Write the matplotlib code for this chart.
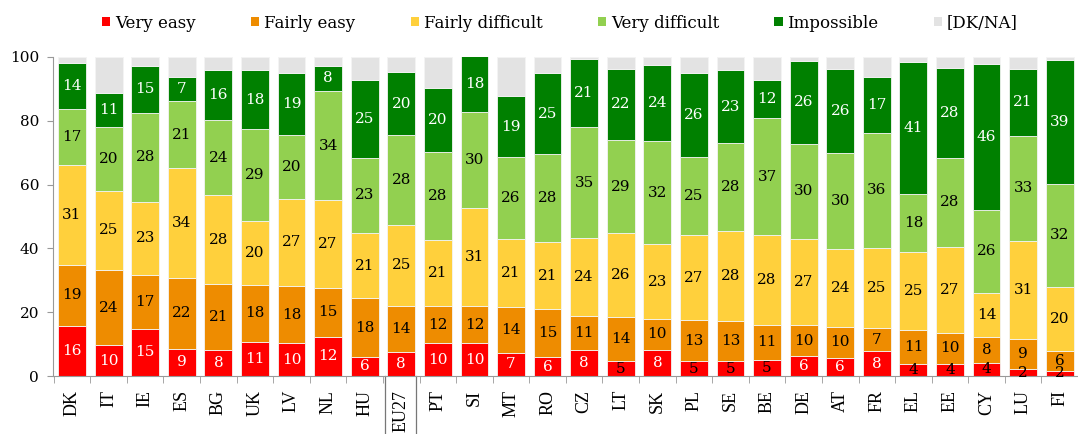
import matplotlib.pyplot as plt
from matplotlib.patches import Patch
import numpy as np

countries = ["DK", "IT", "IE", "ES", "BG", "UK", "LV", "NL", "HU", "EU27",
             "PT", "SI", "MT", "RO", "CZ", "LT", "SK", "PL", "SE", "BE",
             "DE", "AT", "FR", "EL", "EE", "CY", "LU", "FI"]

# percentages (labels show the rounded values)
very_easy = [15.7, 9.6, 14.8, 8.6, 8.2, 10.8, 10.2, 12.3, 6.1, 7.6,
             10.2, 10.2, 7.3, 5.8, 8.3, 4.6, 8.3, 4.6, 4.6, 5.1,
             6.2, 5.6, 7.7, 3.7, 3.9, 4.2, 2.1, 1.6]
fairly_easy = [19.2, 23.6, 16.9, 22.2, 20.6, 17.6, 18.0, 15.4, 18.2, 14.4,
               11.7, 11.6, 14.4, 15.1, 10.6, 14.0, 9.6, 12.8, 12.6, 10.9,
               9.8, 9.9, 7.4, 10.6, 9.7, 8.1, 9.4, 6.2]
fairly_difficult = [31.3, 24.9, 22.9, 34.3, 27.8, 20.2, 27.4, 27.4, 20.6, 25.4,
                    20.6, 30.8, 21.3, 21.0, 24.4, 26.1, 23.4, 26.7, 28.1, 28.1,
                    27.1, 24.4, 25.0, 24.6, 26.9, 13.8, 30.9, 20.1]
very_difficult = [17.4, 20.0, 28.0, 21.1, 23.7, 28.8, 20.1, 34.3, 23.4, 28.2,
                  27.6, 30.1, 25.7, 27.7, 34.7, 29.4, 32.3, 24.7, 27.6, 36.7,
                  29.7, 30.0, 36.2, 18.1, 27.8, 26.0, 32.9, 32.4]
impossible = [14.4, 10.6, 14.6, 7.4, 15.6, 18.4, 19.2, 7.8, 24.6, 19.6,
              20.1, 17.6, 19.0, 25.3, 21.4, 22.2, 24.0, 26.1, 23.0, 12.1,
              25.9, 26.2, 17.3, 41.4, 28.2, 45.7, 20.9, 38.8]

series_names = ["Very easy", "Fairly easy", "Fairly difficult",
                "Very difficult", "Impossible", "[DK/NA]"]
colors = ["#ff0000", "#ee8c00", "#ffd03c", "#92d050", "#008000", "#e3e3e3"]

series = [very_easy, fairly_easy, fairly_difficult, very_difficult, impossible]
dk_na = [max(0, 100 - sum(v)) for v in zip(*series)]

x = np.arange(len(countries))

fig = plt.figure(figsize=(10.78, 4.34), dpi=100)
ax = fig.add_axes([53 / 1078, 58 / 434, 1025 / 1078, 319 / 434])

num_font = "DejaVu Serif"
bottom = np.zeros(len(countries))
for i, vals in enumerate(series + [dk_na]):
    vals = np.array(vals, dtype=float)
    ax.bar(x, vals, width=0.76, bottom=bottom, color=colors[i],
           edgecolor="#f4f4f4", linewidth=0.6, zorder=2)
    if i < 5:
        for xi, b, v in zip(x, bottom, vals):
            n = int(round(v))
            if i == 0:
                col = "white" if n > 5 else "black"
            elif i == 4:
                col = "white"
            else:
                col = "black"
            ax.text(xi, b + v / 2, str(n), ha="center", va="center",
                    color=col, fontsize=11, family=num_font, zorder=3)
    bottom += vals

ax.set_xlim(-0.52, 27.34)
ax.set_ylim(0, 100)
ax.set_yticks(range(0, 101, 20))
ax.tick_params(axis="y", colors="#999999", length=4, labelcolor="black",
               labelsize=11, pad=6)
for lab in ax.get_yticklabels():
    lab.set_family(num_font)

ax.set_xticks(x)
ax.set_xticklabels(countries, rotation=90, family="Liberation Serif",
                   fontsize=13)
ax.tick_params(axis="x", length=0, pad=10)
# separators between categories
ax.set_xticks(np.arange(len(countries) + 1) - 0.5, minor=True)
ax.tick_params(axis="x", which="minor", length=5, colors="#999999")

for s in ["top", "right"]:
    ax.spines[s].set_visible(False)
ax.spines["left"].set_color("#999999")
ax.spines["bottom"].set_color("#999999")

# box around the EU27 label
eu = countries.index("EU27")
for xs in (eu - 0.45, eu + 0.4):
    ax.plot([xs, xs], [0, -20], color="#777777", lw=0.9, clip_on=False)

handles = [Patch(facecolor=c, edgecolor="none") for c in colors]
fig.legend(handles, series_names, loc="center", ncol=6,
           bbox_to_anchor=(560 / 1078, 1 - 23 / 434), frameon=False,
           prop={"family": num_font, "size": 12}, handlelength=0.5,
           handleheight=0.5, handletextpad=0.3, columnspacing=3.3)

fig.savefig("out.png", dpi=100)
plt.close(fig)
